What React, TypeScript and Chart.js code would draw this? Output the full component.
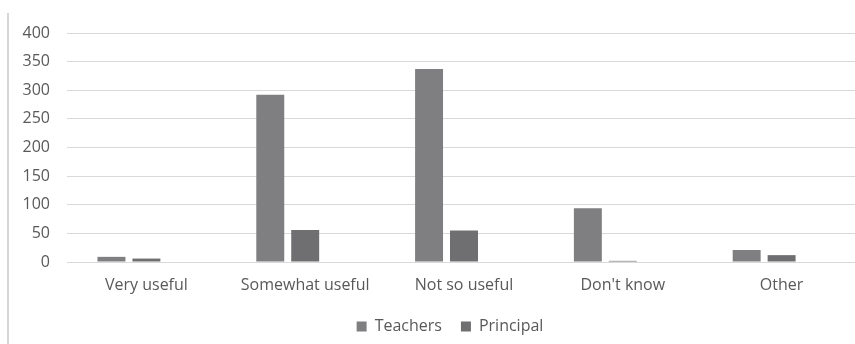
import React, { useEffect, useRef } from "react";
import { Chart, registerables } from "chart.js";

Chart.register(...registerables);

const categories = ["Very useful", "Somewhat useful", "Not so useful", "Don't know", "Other"];
const teachers = [9, 292, 337, 94, 21];
const principal = [6, 56, 55, 2, 12];
const yTicks = [0, 50, 100, 150, 200, 250, 300, 350, 400];

const legendShift = {
  id: "legendShift",
  beforeDraw(chart: any) {
    const lg = chart.legend;
    if (!lg) return;
    const h = lg.height;
    lg.left = 39;
    lg.top = 299.5;
    lg.bottom = lg.top + h;
  },
};

export default function App() {
  const ref = useRef<HTMLCanvasElement | null>(null);

  useEffect(() => {
    const canvas = ref.current;
    if (!canvas) return;
    const font = { family: "'Open Sans', sans-serif", size: 16 };
    const chart = new Chart(canvas, {
      type: "bar",
      data: {
        labels: categories,
        datasets: [
          { label: "Teachers", data: teachers, backgroundColor: "#7f7f81", borderWidth: 0 },
          { label: "Principal", data: principal, backgroundColor: "#6f6f71", borderWidth: 0 },
          { label: "", data: [], backgroundColor: "#ffffff", borderWidth: 0 },
        ],
      },
      options: {
        responsive: false,
        animation: false,
        devicePixelRatio: 1,
        layout: { padding: { top: 33, right: 39, bottom: 0, left: 0 } },
        datasets: { bar: { categoryPercentage: 0.66, barPercentage: 0.8 } },
        plugins: {
          legend: {
            position: "bottom",
            labels: {
              font,
              color: "#595959",
              boxWidth: 10,
              boxHeight: 10,
              padding: 19,
              filter: (item: any) => item.text !== "",
            },
          },
          tooltip: { enabled: false },
        },
        scales: {
          x: {
            grid: { display: false },
            border: { display: false },
            ticks: { font, color: "#595959", padding: 6, maxRotation: 0 },
            afterFit: (s: any) => { s.height = 37; },
          },
          y: {
            min: 0,
            max: 400,
            afterBuildTicks: (s: any) => { s.ticks = yTicks.map((v) => ({ value: v })); },
            grid: { color: "#d9d9d9", lineWidth: 1, drawTicks: false },
            border: { display: false },
            ticks: { font, color: "#595959", padding: 17 },
            afterFit: (s: any) => { s.width = 67; },
          },
        },
      },
      plugins: [legendShift],
    });
    return () => chart.destroy();
  }, []);

  return (
    <div style={{ position: "fixed", left: 0, top: 0, width: 855, height: 344, overflow: "hidden", background: "#fff" }}>
      <canvas ref={ref} width={900} height={344} style={{ width: 900, height: 344, display: "block" }} />
      <div style={{ position: "absolute", left: 7, top: 13, width: 2, height: 331, background: "#d6d6d6" }} />
    </div>
  );
}
